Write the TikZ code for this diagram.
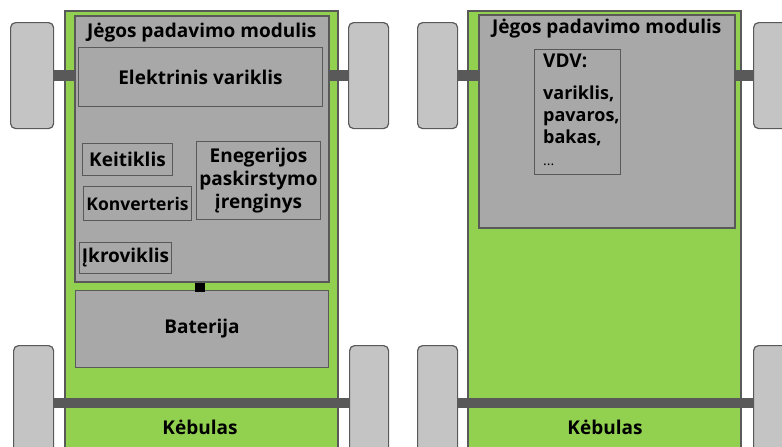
\documentclass[tikz,border=0pt]{standalone}
\usepackage{fontspec}
\setmainfont{Open Sans}
\usepackage{tikz}
\usetikzlibrary{positioning}

\definecolor{zalia}{RGB}{146,208,80}
\definecolor{pilka}{RGB}{168,168,168}
\definecolor{ratpilka}{RGB}{196,196,196}
\definecolor{tamsi}{RGB}{89,89,89}

\tikzset{
  kebulas/.style={draw=tamsi, line width=1.5pt, fill=zalia, anchor=north west, inner sep=0pt},
  modulis/.style={draw=tamsi, line width=1.5pt, fill=pilka, anchor=north west, inner sep=0pt},
  blokas/.style={draw=tamsi, line width=1pt, fill=pilka, anchor=north west, inner sep=0pt, align=center},
  ratas/.style={draw=tamsi, line width=1.2pt, fill=ratpilka, rounded corners=5pt, anchor=north west, inner sep=0pt},
  asis/.style={tamsi, line width=10.5pt},
  tekstas/.style={font=\bfseries\fontsize{19}{23}\selectfont, inner sep=0pt, align=center}
}

\begin{document}
\begin{tikzpicture}[x=1pt, y=-1pt]
    \clip (0,0) rectangle (782,447);

    % left car: electric drive
    \node[kebulas, minimum width=273pt, minimum height=460pt] (kebL) at (64,10) {};
    \node[ratas, minimum width=43pt, minimum height=106pt] (ratasLa) at (10,22) {};
    \node[ratas, minimum width=40pt, minimum height=106pt] (ratasLb) at (348,22) {};
    \node[ratas, minimum width=40pt, minimum height=115pt] (ratasLc) at (13,345) {};
    \node[ratas, minimum width=39pt, minimum height=115pt] (ratasLd) at (349,345) {};
    \draw[asis] (ratasLa.east) -- (ratasLb.west);
    \draw[asis] (ratasLc.east) -- (ratasLd.west);

    \node[modulis, minimum width=254pt, minimum height=266pt] (modL) at (74,15) {};
    \node[tekstas, anchor=north] (titleL) at ([yshift=-8pt]modL.north) {Jėgos padavimo modulis};
    \node[blokas, minimum width=244pt, minimum height=59pt] (variklis) at (78,47) {};
    \node[tekstas] at (variklis.center) {Elektrinis variklis};
    \node[blokas, minimum width=90pt, minimum height=32pt] (keitiklis) at (82,143) {};
    \node[tekstas] at (keitiklis.center) {Keitiklis};
    \node[blokas, minimum width=108pt, minimum height=34pt] (konverteris) at (83,186) {};
    \node[tekstas, font=\bfseries\fontsize{17.5}{22}\selectfont] at (konverteris.center) {Konverteris};
    \node[blokas, minimum width=124pt, minimum height=78pt] (skirstymas) at (196,141) {};
    \node[tekstas] at (skirstymas.center) {Enegerijos\\paskirstymo\\įrenginys};
    \node[blokas, minimum width=92pt, minimum height=31pt] (ikroviklis) at (79,242) {};
    \node[tekstas] at (ikroviklis.center) {Įkroviklis};

    \node[blokas, minimum width=253pt, minimum height=77pt] (baterija) at (75,290) {};
    \node[tekstas] at (baterija.center) {Baterija};
    \node[fill=black, minimum width=10pt, minimum height=9pt, inner sep=0pt, anchor=north] (jungtis) at ([yshift=-0.5pt]modL.south -| 200,0) {};
    \node[tekstas] (kebTekstL) at (200,427) {Kėbulas};

    % right car: internal combustion engine
    \node[kebulas, minimum width=273pt, minimum height=460pt] (kebR) at (467,10) {};
    \node[ratas, minimum width=40pt, minimum height=106pt] (ratasRa) at (417,22) {};
    \node[ratas, minimum width=42pt, minimum height=106pt] (ratasRb) at (753,22) {};
    \node[ratas, minimum width=40pt, minimum height=115pt] (ratasRc) at (417,345) {};
    \node[ratas, minimum width=42pt, minimum height=115pt] (ratasRd) at (753,345) {};
    \draw[asis] (ratasRa.east) -- (ratasRb.west);
    \draw[asis] (ratasRc.east) -- (ratasRd.west);

    \node[modulis, minimum width=256pt, minimum height=213pt] (modR) at (478,14) {};
    \node[tekstas, anchor=north] (titleR) at ([yshift=-5pt]modR.north) {Jėgos padavimo modulis};
    \node[blokas, minimum width=86pt, minimum height=125pt] (vdv) at (534,49) {};
    \node[tekstas, anchor=north west] (vdvTekstas) at ([xshift=9pt,yshift=-5pt]vdv.north west) {VDV:};
    \node[tekstas, anchor=north west, align=left, font=\bfseries\fontsize{18}{22}\selectfont] (vdvSarasas) at ([xshift=9pt,yshift=-37pt]vdv.north west) {variklis,\\pavaros,\\bakas,\\\textmd{\fontsize{14}{14}\selectfont ...}};
    \node[tekstas] (kebTekstR) at (605,427) {Kėbulas};
\end{tikzpicture}
\end{document}
